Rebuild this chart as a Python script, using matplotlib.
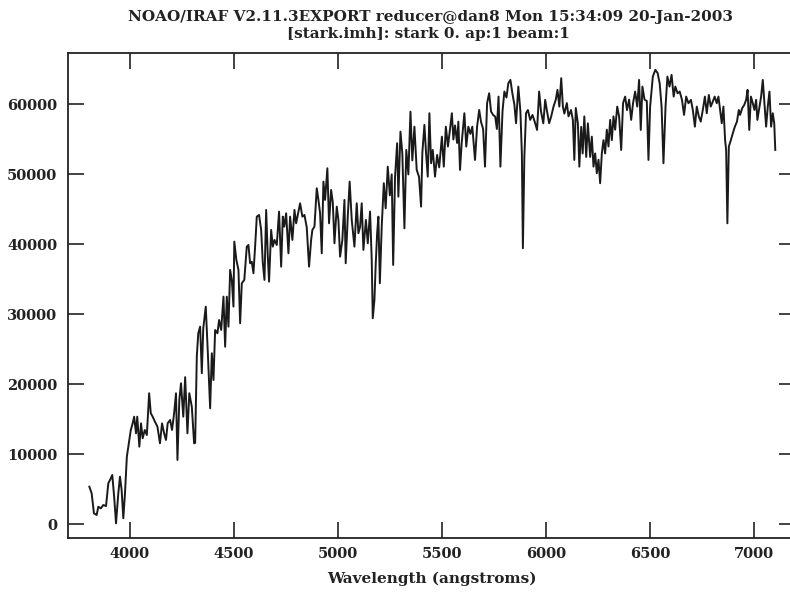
import matplotlib.pyplot as plt

# wavelength (angstroms) and flux of the extracted aperture
wave = [3807, 3818, 3829, 3842, 3850, 3862, 3874, 3887, 3898, 3910, 3917, 3926, 3935, 3946, 3954,
        3962, 3970, 3978, 3987, 3999, 4006, 4015, 4022, 4031, 4037, 4047, 4055, 4063, 4073, 4083,
        4094, 4102, 4111, 4122, 4134, 4146, 4156, 4166, 4175, 4183, 4195, 4204, 4214, 4223, 4230,
        4239, 4247, 4258, 4267, 4278, 4287, 4299, 4310, 4315, 4323, 4330, 4339, 4347, 4354, 4366,
        4376, 4387, 4395, 4403, 4411, 4422, 4430, 4440, 4451, 4459, 4467, 4475, 4483, 4491, 4499,
        4503, 4513, 4523, 4531, 4539, 4551, 4563, 4571, 4579, 4587, 4595, 4603, 4611, 4622, 4632,
        4640, 4648, 4656, 4664, 4670, 4680, 4688, 4696, 4707, 4718, 4728, 4736, 4743, 4752, 4763,
        4771, 4782, 4792, 4800, 4811, 4819, 4830, 4840, 4851, 4862, 4872, 4878, 4888, 4899, 4907,
        4915, 4923, 4931, 4939, 4950, 4958, 4968, 4976, 4984, 4995, 5003, 5011, 5022, 5032, 5038,
        5048, 5057, 5067, 5080, 5091, 5099, 5107, 5115, 5123, 5135, 5144, 5155, 5163, 5168, 5176,
        5182, 5189, 5195, 5202, 5211, 5221, 5230, 5240, 5250, 5259, 5266, 5275, 5285, 5291, 5301,
        5310, 5320, 5329, 5339, 5349, 5358, 5368, 5379, 5390, 5400, 5406, 5416, 5424, 5432, 5440,
        5448, 5456, 5467, 5477, 5487, 5500, 5509, 5519, 5529, 5536, 5548, 5555, 5563, 5573, 5579,
        5587, 5595, 5608, 5617, 5627, 5637, 5646, 5659, 5669, 5679, 5688, 5698, 5707, 5717, 5727,
        5736, 5746, 5756, 5764, 5772, 5781, 5791, 5800, 5810, 5819, 5829, 5839, 5848, 5856, 5867,
        5877, 5884, 5889, 5896, 5904, 5913, 5924, 5935, 5948, 5957, 5967, 5976, 5987, 5996, 6005,
        6015, 6025, 6036, 6047, 6055, 6064, 6073, 6081, 6088, 6100, 6108, 6120, 6129, 6136, 6143,
        6153, 6160, 6169, 6176, 6184, 6193, 6201, 6212, 6220, 6228, 6236, 6244, 6252, 6260, 6268,
        6276, 6284, 6292, 6300, 6308, 6316, 6324, 6332, 6342, 6351, 6361, 6370, 6380, 6389, 6399,
        6409, 6418, 6428, 6438, 6447, 6455, 6463, 6473, 6484, 6492, 6500, 6513, 6525, 6536, 6546,
        6555, 6564, 6574, 6583, 6593, 6603, 6613, 6621, 6632, 6642, 6653, 6663, 6673, 6684, 6696,
        6705, 6715, 6724, 6734, 6743, 6753, 6763, 6772, 6782, 6791, 6801, 6810, 6820, 6828, 6836,
        6844, 6852, 6860, 6865, 6871, 6878, 6888, 6897, 6907, 6917, 6926, 6932, 6942, 6952, 6961,
        6968, 6976, 6984, 6993, 7001, 7009, 7015, 7025, 7033, 7041, 7049, 7057, 7065, 7073, 7081,
        7089, 7096, 7101]

flux = [5340, 4390, 1530, 1290, 2470, 2240, 2720, 2570, 5820, 6540, 7010, 3910, 100, 4390, 6770,
        4860, 820, 4390, 9630, 12020, 13450, 14400, 15350, 12970, 15350, 11060, 14400, 12260, 13450, 12730,
        18700, 15840, 15350, 14640, 13920, 11540, 14400, 12970, 12020, 14400, 14880, 13450, 15840, 18700, 9160,
        17740, 20130, 15350, 21000, 12970, 18700, 16780, 11540, 11600, 24000, 27280, 28230, 21560, 28000, 31090,
        24420, 16550, 24420, 20600, 27750, 27280, 29180, 27750, 32520, 25360, 32520, 28230, 36340, 34910, 31090,
        40390, 37770, 36340, 28710, 34430, 34910, 39670, 39910, 37290, 37500, 35870, 39670, 43960, 44200, 42060,
        37290, 34910, 44920, 38240, 34670, 42060, 39670, 40630, 39910, 44680, 36810, 43960, 42530, 44440, 38720,
        43960, 40630, 44920, 43010, 44680, 45870, 43960, 44200, 42400, 36810, 40630, 42060, 42530, 48020, 46350,
        44440, 38720, 48970, 46350, 50880, 43010, 47780, 46000, 40150, 45390, 43490, 38240, 40630, 46350, 37290,
        44000, 48970, 43490, 39670, 45870, 41590, 42500, 45870, 39200, 43490, 40150, 44680, 37770, 29430, 32050,
        37000, 41590, 43960, 34430, 42530, 48740, 45150, 51110, 47000, 50000, 37050, 49680, 54460, 46820, 56120,
        53000, 42290, 53500, 50000, 58980, 52000, 56830, 50640, 49680, 45390, 53030, 57080, 53000, 49680, 58750,
        51590, 53500, 49680, 52790, 51000, 55400, 51110, 56830, 54000, 55800, 58750, 55000, 57000, 54500, 57550,
        50640, 54500, 58750, 53980, 56830, 55800, 56830, 52070, 56830, 59220, 57500, 56500, 51110, 60180, 61610,
        59000, 58500, 58270, 56500, 61130, 51110, 59000, 61850, 61000, 63040, 63520, 61500, 60000, 57320, 62560,
        59000, 53000, 39440, 52500, 58750, 59220, 57800, 58500, 57320, 56360, 61850, 59000, 57300, 60660, 59000,
        57320, 58300, 59700, 60700, 62090, 59700, 63760, 59700, 58700, 60200, 58300, 59200, 57800, 52070, 59500,
        57300, 51110, 56800, 53000, 58300, 52500, 57300, 52500, 55400, 51110, 53000, 50170, 52100, 48740, 53000,
        54900, 53000, 56400, 54000, 57800, 54900, 58300, 56400, 59700, 58300, 53500, 60200, 61130, 59200, 60700,
        57800, 60200, 61850, 59700, 63520, 56360, 62560, 60700, 60500, 52070, 59700, 64000, 64950, 64500, 63000,
        59700, 51600, 59700, 64000, 62560, 64240, 61130, 62560, 61600, 61850, 60660, 58510, 61130, 60180, 60660,
        59220, 56830, 59700, 58270, 57560, 59220, 61130, 58750, 61370, 59700, 60420, 61130, 60180, 61130, 59220,
        57320, 59700, 54930, 53500, 43010, 53980, 54930, 55880, 56830, 57560, 59220, 58510, 59460, 59940, 60660,
        62090, 56360, 61130, 60180, 59220, 60660, 57800, 59700, 61130, 63520, 60180, 56830, 59700, 61850, 56830,
        58750, 57320, 53500]

xticks = [4000, 4500, 5000, 5500, 6000, 6500, 7000]
yticks = [0, 10000, 20000, 30000, 40000, 50000, 60000]

title1 = "NOAO/IRAF V2.11.3EXPORT reducer@dan8 Mon 15:34:09 20-Jan-2003"
title2 = "[stark.imh]: stark 0. ap:1 beam:1"

plt.rcParams['font.family'] = 'DejaVu Serif'
plt.rcParams['font.weight'] = 'bold'

fig = plt.figure(figsize=(7.9, 5.93), dpi=100)
ax = fig.add_axes([0.0865, 0.0922, 0.9199, 0.8179])

ax.plot(wave, flux, color='#1a1a1a', lw=1.4)

ax.set_xlim(3706, 7196)
ax.set_ylim(-2045, 67320)
ax.set_xticks(xticks)
ax.set_yticks(yticks)
ax.tick_params(direction='in', length=11.5, width=1.2, colors='#222222',
               top=True, right=True, labelsize=10.5, pad=6)
ax.tick_params(axis='y', pad=8)
for s in ax.spines.values():
    s.set_linewidth(1.3)
    s.set_color('#222222')

ax.set_xlabel("Wavelength (angstroms)", fontsize=11, fontweight='bold',
              labelpad=8, color='#222222')

fig.text(0.545, 0.971, title1, ha='center', va='center', fontsize=11, color='#222222')
fig.text(0.542, 0.942, title2, ha='center', va='center', fontsize=11, color='#222222')

plt.savefig("out.png", dpi=100)
